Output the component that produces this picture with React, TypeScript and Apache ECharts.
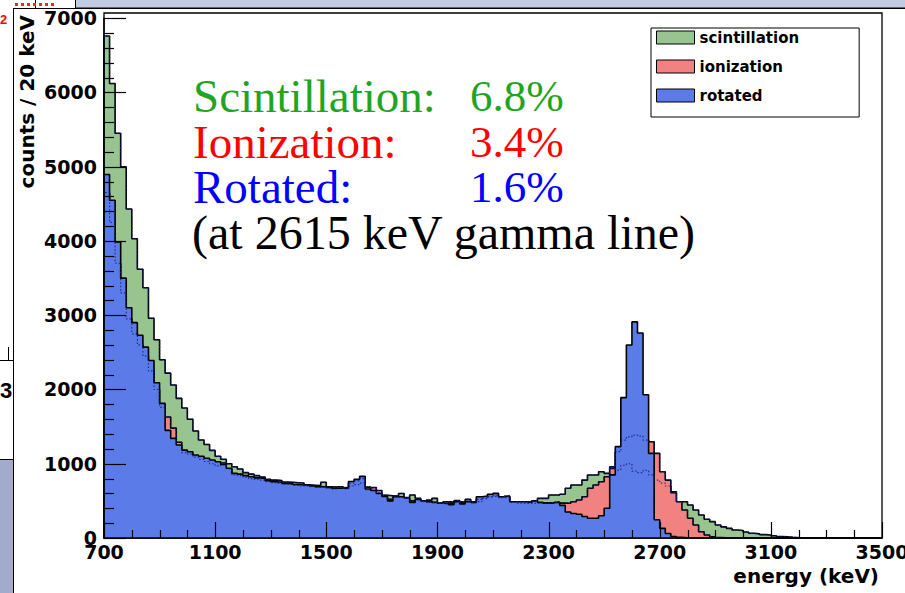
import { useEffect, useRef } from "react";
import * as echarts from "echarts";

// Histogram binning: counts / 20 keV starting at 700 keV
const binStart = 700;
const binWidth = 20;

const scintillation = [
  6760, 6120, 5450, 5000, 4430, 4030, 3620, 3370, 2960, 2670,
  2400, 2220, 2060, 1880, 1750, 1600, 1440, 1320, 1260, 1180,
  1100, 1060, 1000, 960, 930, 880, 860, 840, 820, 790,
  780, 775, 755, 750, 745, 740, 715, 710, 705, 750,
  690, 685, 680, 675, 700, 720, 740, 685, 670, 610,
  575, 570, 565, 600, 545, 580, 534, 490, 510, 534,
  467, 489, 489, 505, 489, 520, 489, 520, 540, 560,
  560, 550, 560, 489, 489, 489, 480, 500, 534, 534,
  579, 579, 590, 669, 713, 713, 780, 848, 848, 892,
  870, 960, 915, 980, 1000, 900, 880, 910, 850, 780,
  740, 700, 623, 489, 489, 444, 377, 310, 252, 220,
  175, 150, 130, 108, 100, 80, 63, 55, 45, 40,
  30, 20, 15, 10, 6, 4, 2, 0, 0, 0,
  0, 0, 0, 0, 0, 0, 0, 0, 0, 0,
];

const ionization = [
  4650, 4250, 3700, 3300, 2950, 2750, 2600, 2450, 2250, 2000,
  1760, 1630, 1480, 1290, 1150, 1130, 1090, 1060, 1030, 1000,
  970, 1010, 930, 850, 840, 820, 800, 790, 780, 760,
  745, 735, 725, 720, 710, 700, 700, 690, 680, 680,
  670, 660, 690, 660, 740, 770, 800, 650, 680, 640,
  570, 520, 550, 545, 535, 500, 515, 495, 480, 475,
  465, 460, 470, 480, 485, 485, 475, 490, 530, 550,
  570, 545, 545, 480, 470, 465, 465, 470, 470, 470,
  475, 480, 470, 467, 489, 511, 556, 669, 713, 758,
  825, 938, 1162, 1319, 1363, 1386, 1373, 1319, 1296, 1140,
  892, 780, 610, 489, 377, 265, 175, 85, 40, 15,
  5, 2, 0, 0, 0, 0, 0, 0, 0, 0,
  0, 0, 0, 0, 0, 0, 0, 0, 0, 0,
  0, 0, 0, 0, 0, 0, 0, 0, 0, 0,
];

const rotated = [
  4895, 4549, 3988, 3500, 3100, 2900, 2730, 2570, 2390, 2090,
  1813, 1450, 1341, 1252, 1184, 1162, 1117, 1100, 1073, 1050,
  1027, 990, 940, 870, 860, 840, 825, 810, 803, 770,
  758, 750, 736, 730, 720, 713, 710, 700, 690, 690,
  680, 670, 669, 669, 760, 790, 830, 660, 640, 600,
  560, 500, 555, 555, 540, 480, 520, 500, 490, 480,
  470, 465, 450, 490, 460, 490, 480, 556, 565, 589,
  601, 556, 565, 489, 489, 489, 480, 500, 480, 470,
  470, 480, 440, 350, 330, 320, 290, 265, 265, 300,
  400, 850, 1230, 1890, 2600, 2910, 2760, 1930, 1140, 245,
  130, 60, 20, 8, 3, 0, 0, 0, 0, 0,
  0, 0, 0, 0, 0, 0, 0, 0, 0, 0,
  0, 0, 0, 0, 0, 0, 0, 0, 0, 0,
  0, 0, 0, 0, 0, 0, 0, 0, 0, 0,
];

// tick positions (axis values)
const xMajorTicks = [700, 1100, 1500, 1900, 2300, 2700, 3100, 3500];
const xMinorTicks = [
  800, 900, 1000, 1200, 1300, 1400, 1600, 1700, 1800, 2000, 2100,
  2200, 2400, 2500, 2600, 2800, 2900, 3000, 3200, 3300, 3400,
];
const yMajorTicks = [0, 1000, 2000, 3000, 4000, 5000, 6000, 7000];
const yMinorTicks = [
  200, 400, 600, 800, 1200, 1400, 1600, 1800, 2200, 2400, 2600, 2800,
  3200, 3400, 3600, 3800, 4200, 4400, 4600, 4800, 5200, 5400, 5600, 5800,
  6200, 6400, 6600, 6800,
];

const seriesNames = ["scintillation", "ionization", "rotated"];
const annotationLabels = ["Scintillation:", "Ionization:", "Rotated:"];
const annotationValues = ["6.8%", "3.4%", "1.6%"];
const annotationNote = "(at 2615 keV gamma line)";
const xTitle = "energy (keV)";
const yTitle = "counts / 20 keV";

const fills = ["#98c490", "#f28282", "#5b7ce8"];
const textColors = ["#1fa51f", "#ff0000", "#0000ff"];

const xMin = 700;
const xMax = 3500;
const yMin = 0;
const yMax = 7000;
const gridLeft = 104;
const gridRight = 23;
const gridTop = 18.2;
const gridBottom = 55;
const chartW = 905;
const chartH = 593;

function toSteps(values: number[]): [number, number][] {
  const pts: [number, number][] = [[binStart, 0]];
  values.forEach((v, i) => pts.push([binStart + i * binWidth, v]));
  const end = binStart + values.length * binWidth;
  pts.push([end, values[values.length - 1]]);
  pts.push([end, 0]);
  return pts;
}

const axisFont = {
  color: "#000",
  fontFamily: "DejaVu Sans",
  fontWeight: "bold" as const,
  fontSize: 19,
  formatter: (v: number) => String(v),
};

export default function App() {
  const ref = useRef<HTMLDivElement>(null);

  useEffect(() => {
    if (!ref.current) return;
    const chart = echarts.init(ref.current, null, { renderer: "svg" });
    const hists = [scintillation, ionization, rotated];
    const lineY = [96, 141.5, 187];

    const plotW = chartW - gridLeft - gridRight;
    const plotH = chartH - gridTop - gridBottom;
    const plotBottom = chartH - gridBottom;

    const option: any = {
      animation: false,
      backgroundColor: "#fff",
      grid: {
        left: gridLeft,
        right: gridRight,
        top: gridTop,
        bottom: gridBottom,
        containLabel: false,
        outerBoundsMode: "none",
      },
      xAxis: {
        type: "value",
        min: xMin,
        max: xMax,
        interval: 400,
        axisLine: { show: true, onZero: false, lineStyle: { color: "#000", width: 1.5 } },
        axisTick: { show: false },
        minorTick: { show: false },
        axisLabel: { ...axisFont, margin: 4 },
        splitLine: { show: false },
      },
      yAxis: {
        type: "value",
        min: yMin,
        max: yMax,
        interval: 1000,
        axisLine: { show: true, lineStyle: { color: "#000", width: 1.5 } },
        axisTick: { show: false },
        minorTick: { show: false },
        axisLabel: { ...axisFont, margin: 7 },
        splitLine: { show: false },
      },
      legend: {
        orient: "vertical",
        left: 651,
        top: 28,
        padding: [2, 60, 14, 5],
        itemGap: 14,
        itemWidth: 38,
        itemHeight: 13,
        backgroundColor: "#fff",
        borderColor: "#000",
        borderWidth: 1,
        borderRadius: 0,
        selectedMode: false,
        textStyle: { fontFamily: "DejaVu Sans", fontWeight: "bold", fontSize: 15, color: "#000" },
        data: seriesNames.map((n, i) => ({
          name: n,
          icon: "rect",
          itemStyle: { color: fills[i], borderColor: "#000", borderWidth: 1 },
        })),
      },
      series: [
        ...hists.map((vals, i) => ({
          name: seriesNames[i],
          type: "line",
          step: "end",
          data: toSteps(vals),
          symbol: "none",
          showSymbol: false,
          silent: true,
          z: 2 + i,
          color: fills[i],
          itemStyle: { color: fills[i] },
          lineStyle: { color: "#000", width: 1.6 },
          areaStyle: { color: fills[i], opacity: 1 },
          emphasis: { disabled: true },
        })),
        ...hists.slice(0, 2).map((vals, i) => ({
          name: seriesNames[i] + " outline",
          type: "line",
          step: "end",
          data: toSteps(vals),
          symbol: "none",
          showSymbol: false,
          silent: true,
          z: 6,
          lineStyle: { color: "#13207a", width: 1.2, type: [1.5, 2], opacity: 0.85 },
          emphasis: { disabled: true },
        })),
      ],
    };
    chart.setOption(option);

    // axis value -> pixel, with the same linear mapping as the value axes
    const xPx = (v: number) => {
      const p = chart.convertToPixel({ xAxisIndex: 0 }, v) as unknown as number;
      return typeof p === "number" && isFinite(p) ? p : gridLeft + ((v - xMin) / (xMax - xMin)) * plotW;
    };
    const yPx = (v: number) => {
      const p = chart.convertToPixel({ yAxisIndex: 0 }, v) as unknown as number;
      return typeof p === "number" && isFinite(p) ? p : plotBottom - ((v - yMin) / (yMax - yMin)) * plotH;
    };
    const tickStyle = { stroke: "#000", lineWidth: 1.2 };
    const xTick = (v: number, len: number) => {
      const x = Math.round(xPx(v)) + 0.5;
      return { type: "line", z: 90, silent: true, shape: { x1: x, y1: plotBottom, x2: x, y2: plotBottom - len }, style: tickStyle };
    };
    const yTick = (v: number, len: number) => {
      const y = Math.round(yPx(v)) + 0.5;
      return { type: "line", z: 90, silent: true, shape: { x1: gridLeft, y1: y, x2: gridLeft + len, y2: y }, style: tickStyle };
    };
    const tickEls = [
      ...xMajorTicks.map((v) => xTick(v, 16)),
      ...xMinorTicks.map((v) => xTick(v, 8)),
      ...yMajorTicks.map((v) => yTick(v, 22)),
      ...yMinorTicks.map((v) => yTick(v, 10)),
    ];

    const graphics: any[] = [
      // remnants of the surrounding slide
      { type: "rect", z: 0, shape: { x: 75.5, y: -1, width: 831, height: 9 }, style: { fill: "#c3cbe2", stroke: "#000", lineWidth: 1 } },
      { type: "line", z: 0, shape: { x1: 35.5, y1: 0, x2: 35.5, y2: 8 }, style: { stroke: "#000", lineWidth: 1 } },
      { type: "line", z: 0, shape: { x1: 15, y1: 4.5, x2: 54, y2: 4.5 }, style: { stroke: "#ff2020", lineWidth: 3, lineDash: [3, 3] } },
      { type: "line", z: 0, shape: { x1: 13, y1: 8.5, x2: 905, y2: 8.5 }, style: { stroke: "#000", lineWidth: 1 } },
      { type: "line", z: 0, shape: { x1: 13.5, y1: 8, x2: 13.5, y2: 593 }, style: { stroke: "#000", lineWidth: 1 } },
      { type: "rect", z: 0, shape: { x: -1, y: 459.5, width: 14.5, height: 140 }, style: { fill: "#a2acca", stroke: "#000", lineWidth: 1 } },
      { type: "line", z: 0, shape: { x1: 0, y1: 360.5, x2: 13, y2: 360.5 }, style: { stroke: "#000", lineWidth: 1 } },
      { type: "line", z: 0, shape: { x1: 8.5, y1: 347, x2: 8.5, y2: 360 }, style: { stroke: "#000", lineWidth: 1 } },
      { type: "text", z: 0, style: { x: 0, y: 390, text: "3", align: "left", verticalAlign: "middle", font: 'bold 22px "Liberation Sans"', fill: "#000" } },
      { type: "text", z: 0, style: { x: 0, y: 19, text: "2", align: "left", verticalAlign: "middle", font: 'bold 13px "Liberation Sans"', fill: "#ff0000" } },
      // tick marks
      ...tickEls,
      // plot frame
      { type: "rect", z: 100, silent: true, shape: { x: 104, y: 13, width: 778, height: 525 }, style: { fill: "none", stroke: "#000", lineWidth: 1.3 } },
      // axis titles
      {
        type: "text",
        z: 100,
        x: 27,
        y: 15,
        rotation: Math.PI / 2,
        style: { x: 0, y: 0, text: yTitle, align: "right", verticalAlign: "middle", font: 'bold 20px "DejaVu Sans"', fill: "#000" },
      },
      { type: "text", z: 100, style: { x: 879, y: 576, text: xTitle, align: "right", verticalAlign: "middle", font: 'bold 20px "DejaVu Sans"', fill: "#000" } },
      // resolution annotations
      ...annotationLabels.map((t, i) => ({
        type: "text",
        z: 100,
        style: { x: 193, y: lineY[i], text: t, align: "left", verticalAlign: "middle", font: '47px "Liberation Serif"', fill: textColors[i] },
      })),
      ...annotationValues.map((t, i) => ({
        type: "text",
        z: 100,
        style: { x: 470, y: lineY[i], text: t, align: "left", verticalAlign: "middle", font: '45px "Liberation Serif"', fill: textColors[i] },
      })),
      { type: "text", z: 100, style: { x: 192, y: 232.5, text: annotationNote, align: "left", verticalAlign: "middle", font: '48px "Liberation Serif"', fill: "#000" } },
    ];
    chart.setOption({ graphic: graphics });
    return () => chart.dispose();
  }, []);

  return (
    <div
      ref={ref}
      style={{ position: "fixed", left: 0, top: 0, width: chartW, height: chartH, background: "#fff" }}
    />
  );
}
